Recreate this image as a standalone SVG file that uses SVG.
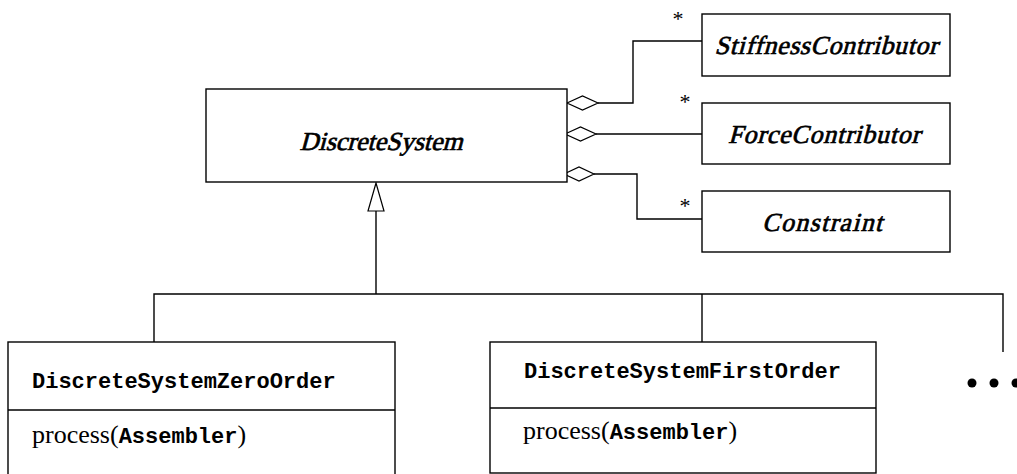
<svg xmlns="http://www.w3.org/2000/svg" width="1017" height="474" viewBox="0 0 1017 474">
<style>
.box{fill:#fff;stroke:#000;stroke-width:1.4}
.ln{fill:none;stroke:#000;stroke-width:1.4}
.dia{fill:#fff;stroke:#000;stroke-width:1.2}
.it{font-family:"Liberation Serif",serif;font-size:26px;text-anchor:middle;fill:#000;stroke:#000;stroke-width:0.7}
.mono{font-family:"Liberation Mono",monospace;font-weight:bold;font-size:22px}
.rm{font-family:"Liberation Serif",serif;font-size:26px}
.star{font-family:"Liberation Serif",serif;font-size:22px;text-anchor:middle}
</style>
<g id="connectors">
<path class="ln" d="M598,103 H633 V41 H702"/>
<path class="ln" d="M596,134 H702"/>
<path class="ln" d="M594,174 H637 V219 H702"/>
<polygon class="dia" points="567,103 582.5,96 598,103 582.5,110"/>
<polygon class="dia" points="565,134 580.5,127 596,134 580.5,141"/>
<polygon class="dia" points="564,174 579,167 594,174 579,181"/>
<text class="star" x="678" y="26">*</text>
<text class="star" x="685" y="109">*</text>
<text class="star" x="685" y="213">*</text>
<path class="ln" d="M376,211 V294"/>
<path class="ln" d="M154,342 V294 H1003 V352"/>
<path class="ln" d="M702,294 V342"/>
<polygon class="dia" points="376,183 368,211 384,211"/>
<circle cx="972" cy="383" r="4.5"/>
<circle cx="994" cy="383" r="4.5"/>
<circle cx="1016" cy="383" r="4.5"/>
</g>
<g id="DiscreteSystem">
<rect class="box" x="206" y="89" width="361" height="93"/>
<text class="it" transform="translate(381,150) skewX(-15)" textLength="163" lengthAdjust="spacing">DiscreteSystem</text>
</g>
<g id="StiffnessContributor">
<rect class="box" x="702" y="14" width="248" height="62"/>
<text class="it" transform="translate(826,54) skewX(-15)" textLength="223" lengthAdjust="spacing">StiffnessContributor</text>
</g>
<g id="ForceContributor">
<rect class="box" x="702" y="103" width="248" height="61"/>
<text class="it" transform="translate(824,143) skewX(-15)" textLength="192" lengthAdjust="spacing">ForceContributor</text>
</g>
<g id="Constraint">
<rect class="box" x="702" y="191" width="248" height="61"/>
<text class="it" transform="translate(822,231) skewX(-15)" textLength="120" lengthAdjust="spacing">Constraint</text>
</g>
<g id="DiscreteSystemZeroOrder">
<rect class="box" x="8" y="342" width="387" height="140"/>
<line class="ln" x1="8" y1="410" x2="395" y2="410"/>
<text class="mono" x="32" y="388">DiscreteSystemZeroOrder</text>
<text class="rm" x="32" y="443">process(<tspan class="mono">Assembler</tspan>)</text>
</g>
<g id="DiscreteSystemFirstOrder">
<rect class="box" x="490" y="342" width="386" height="131"/>
<line class="ln" x1="490" y1="408" x2="876" y2="408"/>
<text class="mono" x="524" y="378">DiscreteSystemFirstOrder</text>
<text class="rm" x="523" y="439">process(<tspan class="mono">Assembler</tspan>)</text>
</g>
</svg>
